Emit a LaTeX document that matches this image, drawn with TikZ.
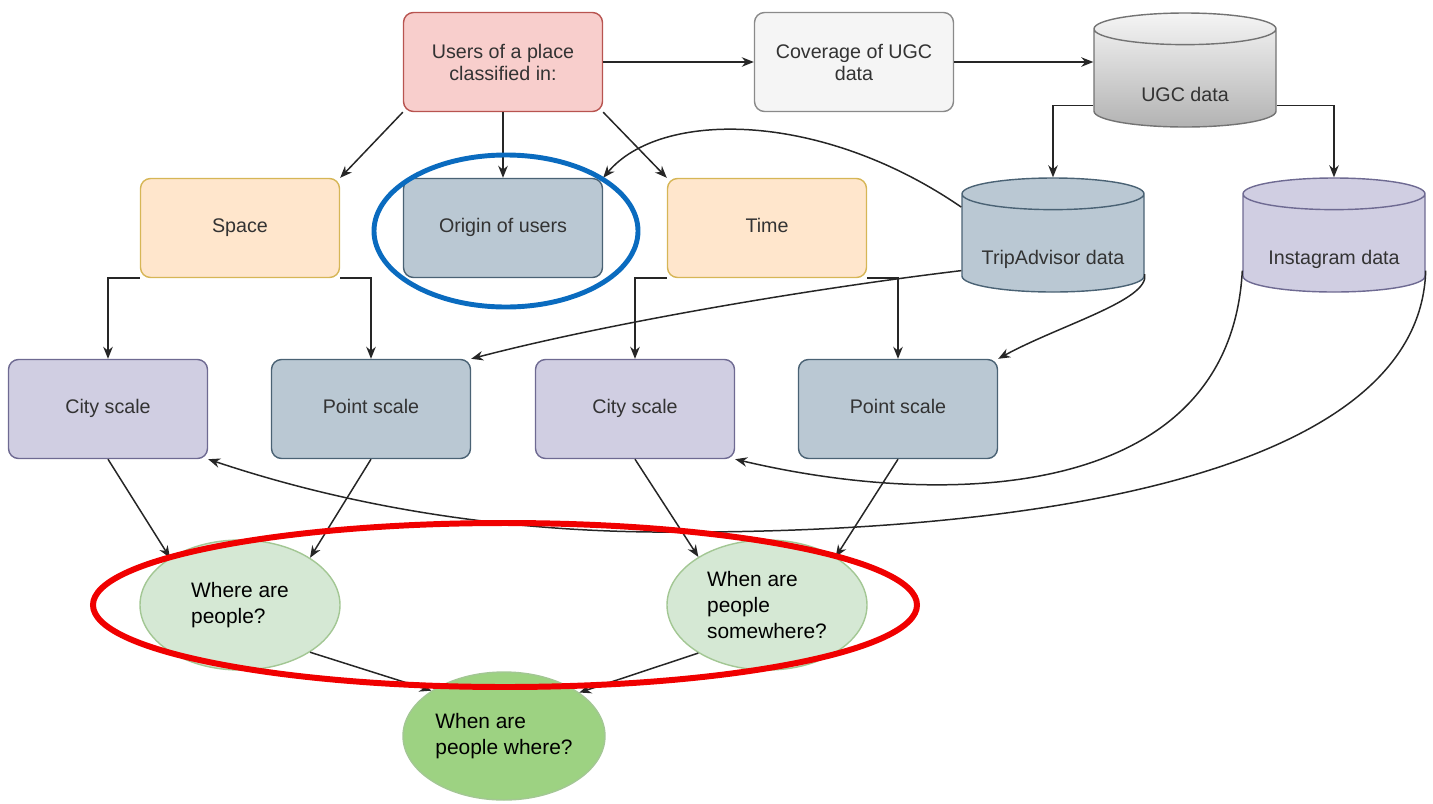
\documentclass[tikz,border=0pt]{standalone}
\usepackage{fontspec}
\setmainfont{Liberation Sans}
\usepackage{tikz}
\usetikzlibrary{shapes.geometric,arrows.meta}

\definecolor{pinkfill}{HTML}{F8CECC}
\definecolor{pinkline}{HTML}{B85450}
\definecolor{greyfill}{HTML}{F5F5F5}
\definecolor{greyline}{HTML}{8A8A8A}
\definecolor{orangefill}{HTML}{FFE6CC}
\definecolor{orangeline}{HTML}{D6B656}
\definecolor{slatefill}{HTML}{BAC8D3}
\definecolor{slateline}{HTML}{4A6274}
\definecolor{lilacfill}{HTML}{D0CEE2}
\definecolor{lilacline}{HTML}{6E6A92}
\definecolor{mintfill}{HTML}{D5E8D4}
\definecolor{mintline}{HTML}{A3C794}
\definecolor{leaffill}{HTML}{9DD282}
\definecolor{textgray}{HTML}{333333}
\definecolor{markred}{HTML}{F00000}
\definecolor{markblue}{HTML}{0A6BBF}

\newcommand{\labelfont}{\fontsize{11.2}{12.5}\selectfont}
\newcommand{\askfont}{\fontsize{11.9}{15}\selectfont}

\tikzset{
  box/.style={draw, line width=0.8pt, rounded corners=2mm, minimum width=39.8mm,
    minimum height=19.8mm, align=center, font=\labelfont, text=textgray},
  db/.style={cylinder, shape border rotate=90, aspect=2.7, draw, line width=0.8pt,
    minimum width=36.4mm, minimum height=22.8mm, anchor=shape center},
  dblabel/.style={yshift=-2.6mm, font=\labelfont, text=textgray},
  ask/.style={ellipse, draw=mintline, fill=mintfill, line width=0.8pt, minimum width=40mm,
    minimum height=26mm, align=left, font=\askfont, inner sep=0pt},
  arr/.style={-{Stealth[length=2.4mm, width=1.9mm]}, line width=0.85pt, black!85},
}

\begin{document}
\begin{tikzpicture}[x=0.2mm, y=-0.2mm]
    \useasboundingbox (0,0) rectangle (1433,803);

    \node[box, fill=pinkfill, draw=pinkline] (users) at (503,62) {Users of a place\\classified in:};
    \node[box, fill=greyfill, draw=greyline] (coverage) at (854,62) {Coverage of UGC\\data};
    \node[db, top color=greyfill, bottom color=black!30, draw=black!55,
      label={[dblabel]center:UGC data}] (ugc) at (1185,70) {};

    \node[box, fill=orangefill, draw=orangeline] (space) at (240,228) {\strut Space};
    \node[box, fill=slatefill, draw=slateline] (origin) at (503,228) {\strut Origin of users};
    \node[box, fill=orangefill, draw=orangeline] (time) at (767,228) {\strut Time};
    \node[db, fill=slatefill, draw=slateline,
      label={[dblabel]center:TripAdvisor data}] (trip) at (1053,235) {};
    \node[db, fill=lilacfill, draw=lilacline,
      label={[dblabel]center:Instagram data}] (insta) at (1334,235) {};

    \node[box, fill=lilacfill, draw=lilacline] (city1) at (108,409) {\strut City scale};
    \node[box, fill=slatefill, draw=slateline] (point1) at (371,409) {\strut Point scale};
    \node[box, fill=lilacfill, draw=lilacline] (city2) at (635,409) {\strut City scale};
    \node[box, fill=slatefill, draw=slateline] (point2) at (898,409) {\strut Point scale};

    \node[ask] (where) at (240,605) {Where are\\people?};
    \node[ask] (when) at (767,605) {When are\\people\\somewhere?};
    \node[ask, fill=leaffill, minimum width=40.4mm, minimum height=25.6mm] (whenwhere) at (504,736)
      {When are\\people where?};

    \draw[arr] (users) -- (coverage);
    \draw[arr] (coverage.east) -- (coverage.east -| ugc.west);
    \draw[arr] (ugc.195) -| (trip.north);
    \draw[arr] (ugc.345) -| (insta.north);
    \draw[arr] (users.south west) -- (space.north east);
    \draw[arr] (users) -- (origin);
    \draw[arr] (users.south east) -- (time.north west);

    \draw[arr] (space.south west) -| (city1.north);
    \draw[arr] (space.south east) -| (point1.north);
    \draw[arr] (time.south west) -| (city2.north);
    \draw[arr] (time.south east) -| (point2.north);

    \draw[arr] (trip.157) .. controls (820,110) and (660,110) .. (origin.north east);
    \draw[arr] (trip.195) .. controls (800,290) and (600,325) .. (point1.north east);
    \draw[arr] (trip.343) .. controls (1150,300) and (1060,325) .. (point2.north east);
    \draw[arr] (insta.195) .. controls (1230,500) and (950,510) .. (city2.south east);
    \draw[arr] (insta.345) .. controls (1420,470) and (1050,535) .. (653,532)
      .. controls (450,530) and (300,490) .. (city1.south east);

    \draw[arr] (city1.south) -- (where.146);
    \draw[arr] (point1.south) -- (where.34);
    \draw[arr] (city2.south) -- (when.145);
    \draw[arr] (point2.south) -- (when.35);
    \draw[arr] (where.-34) -- (whenwhere.148);
    \draw[arr] (when.215) -- (whenwhere.30);

    \draw[markred, line width=3.4pt] (505,605) ellipse [x radius=82.4mm, y radius=16.4mm];
    \draw[markblue, line width=2.8pt] (506,231) ellipse [x radius=26.4mm, y radius=15.2mm];
\end{tikzpicture}
\end{document}
